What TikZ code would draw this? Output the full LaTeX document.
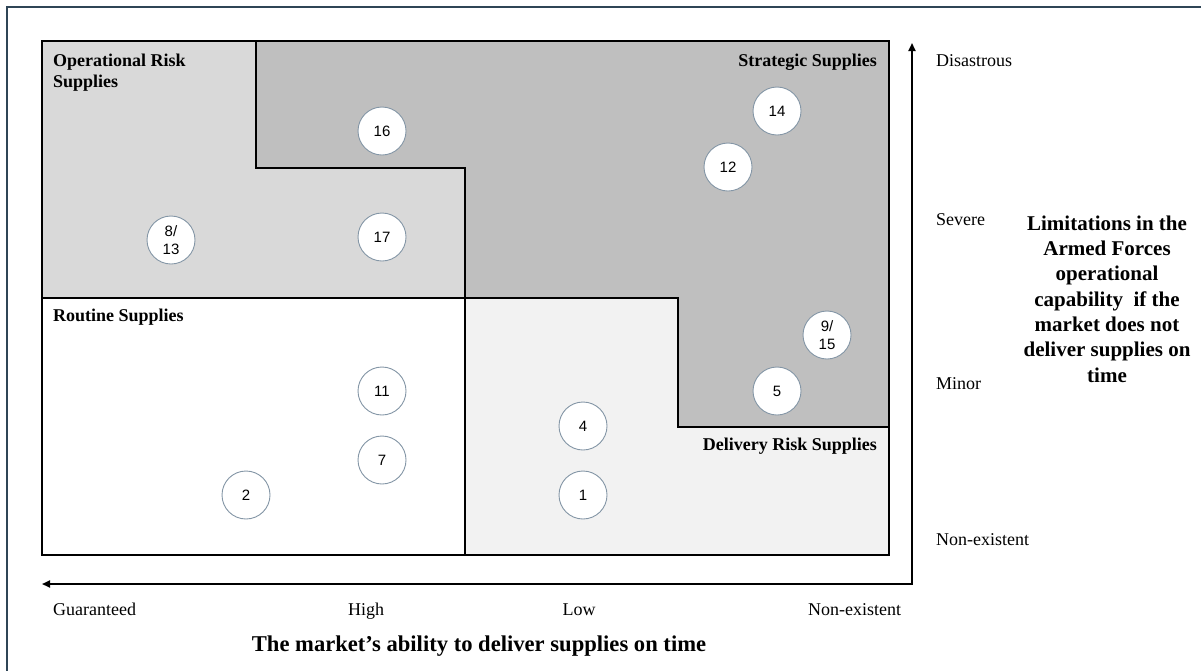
\documentclass[tikz,border=0pt]{standalone}
\usepackage{fontspec}
\setmainfont{Liberation Serif}
\newfontfamily\numfont{Liberation Sans}
\usetikzlibrary{arrows.meta}
\definecolor{framecol}{HTML}{2F4556}
\definecolor{oprisk}{HTML}{D9D9D9}
\definecolor{strat}{HTML}{BFBFBF}
\definecolor{delrisk}{HTML}{F2F2F2}
\definecolor{dotedge}{HTML}{8496A6}

\begin{document}
\begin{tikzpicture}[x=1pt,y=-1pt,
  item/.style={circle, draw=dotedge, line width=0.9pt, fill=white,
    minimum size=48pt, inner sep=0pt, align=center,
    font=\numfont\fontsize{15}{18.5}\selectfont},
  zone/.style={font=\bfseries\fontsize{18}{21.6}\selectfont, inner sep=0pt, align=left},
  tick/.style={font=\fontsize{18}{21}\selectfont, inner sep=0pt},
  heading/.style={font=\bfseries\fontsize{21}{25.3}\selectfont, inner sep=0pt, align=center},
  border/.style={line width=2pt, draw=black},
  axis/.style={line width=1.8pt, draw=black, line join=miter}]
\useasboundingbox (0,0) rectangle (1201,670);

% outer frame, running off the page at right and bottom
\begin{scope}
  \clip (0,0) rectangle (1201,670);
  \draw[framecol, line width=2.5pt] (7,7) rectangle (1230,700);
\end{scope}

% quadrant fills
\fill[white] (42,41) rectangle (889,555);
\fill[oprisk] (42,41) rectangle (465,298);
\fill[delrisk] (465,298) rectangle (889,555);
\filldraw[fill=strat, border] (256,41) -- (889,41) -- (889,427) -- (678,427)
  -- (678,298) -- (465,298) -- (465,168) -- (256,168) -- cycle;
\draw[border] (42,298) -- (465,298) -- (465,555);
\draw[border] (42,41) rectangle (889,555);

% zone labels
\node[zone, anchor=north west] (opzone) at (53,53.4) {Operational Risk\\Supplies};
\node[zone, anchor=base east] (stzone) at (877,66.5) {Strategic Supplies};
\node[zone, anchor=base west] (rtzone) at (53,321.7) {Routine Supplies};
\node[zone, anchor=base east] (dlzone) at (877,450.7) {Delivery Risk Supplies};

% supply items
\node[item] (s16) at (382,131) {16};
\node[item] (s17) at (382,237) {17};
\node[item] (s813) at (171,240) {8/\\13};
\node[item] (s14) at (777,111) {14};
\node[item] (s12) at (728,167) {12};
\node[item] (s915) at (827,335) {9/\\15};
\node[item] (s5) at (777,391) {5};
\node[item] (s4) at (583,426) {4};
\node[item] (s1) at (583,495) {1};
\node[item] (s11) at (382,391) {11};
\node[item] (s7) at (382,460) {7};
\node[item] (s2) at (246,495) {2};

% axes
\coordinate (ytip) at (912,43);
\coordinate (origin) at (912,584);
\coordinate (xtip) at (42,584);
\draw[axis, {Triangle[length=8pt,width=7pt]}-{Triangle[length=8pt,width=7pt]}]
  (ytip) -- (origin) -- (xtip);

% vertical scale
\node[tick, anchor=base west] (disastrous) at (936,66) {Disastrous};
\node[tick, anchor=base west] (severe) at (936,225) {Severe};
\node[tick, anchor=base west] (minor) at (936,389) {Minor};
\node[tick, anchor=base west] (ynone) at (936,545.7) {Non-existent};
\node[heading, anchor=north] (ytitle) at (1107,215.5)
  {Limitations in the\\Armed Forces\\operational\\capability\ \ if the\\market does not\\deliver supplies on\\time};

% horizontal scale
\node[tick, anchor=base west] (guaranteed) at (53,615.7) {Guaranteed};
\node[tick, anchor=base] (high) at (366,615.7) {High};
\node[tick, anchor=base] (low) at (579,615.7) {Low};
\node[tick, anchor=base west] (xnone) at (808,615.7) {Non-existent};
\node[heading, anchor=base, font=\bfseries\fontsize{22.6}{26}\selectfont] (xtitle) at (479,651.7)
  {The market’s ability to deliver supplies on time};
\end{tikzpicture}
\end{document}
